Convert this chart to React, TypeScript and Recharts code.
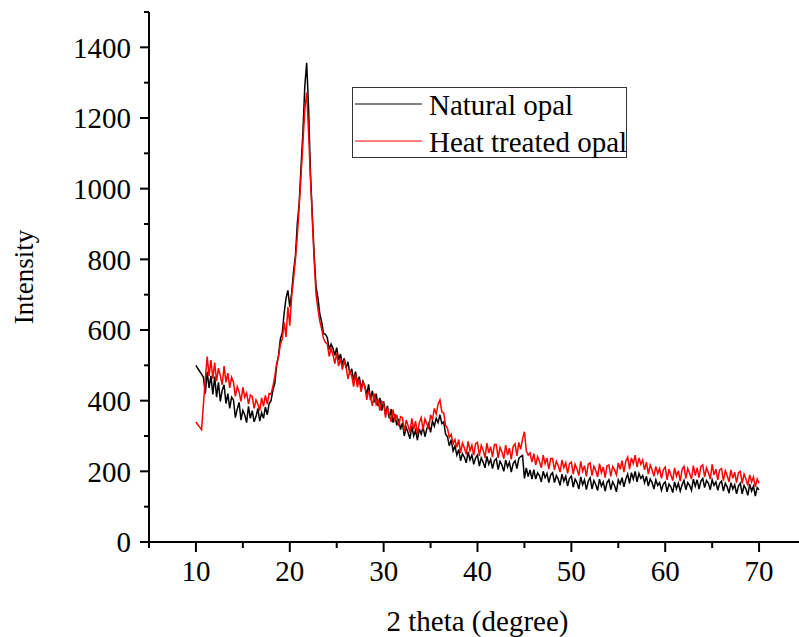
import { LineChart, Line, XAxis, YAxis, Legend } from "recharts";

// XRD scan, 2 theta from 10 to 70 deg in 0.2 deg steps
const THETA_START = 10;
const THETA_STEP = 0.2;

const NATURAL = [
  500, 491, 483, 475, 466, 420, 482, 436, 470, 418,
  468, 410, 452, 398, 430, 445, 392, 420, 378, 410,
  402, 352, 376, 395, 345, 372, 360, 338, 384, 350,
  372, 340, 355, 378, 342, 366, 350, 382, 360, 392,
  400, 430, 448, 500, 528, 575, 592, 648, 690, 712,
  665, 705, 765, 810, 900, 958, 1062, 1160, 1290, 1356,
  1230, 1045, 925, 812, 722, 690, 645, 622, 590, 588,
  578, 545, 560, 548, 528, 550, 515, 532, 502, 520,
  492, 510, 475, 490, 458, 482, 452, 468, 436, 455,
  440, 418, 446, 402, 428, 395, 420, 385, 408, 372,
  398, 362, 385, 350, 376, 338, 362, 330, 348, 318,
  338, 300, 325, 310, 292, 328, 300, 316, 288, 320,
  305, 326, 298, 320, 335, 310, 342, 328, 350, 338,
  360, 335, 340, 305, 298, 272, 290, 258, 272, 246,
  262, 230, 250, 240, 224, 255, 232, 246, 220, 238,
  246, 215, 238, 226, 210, 242, 220, 234, 208, 230,
  236, 205, 228, 218, 200, 232, 212, 226, 198, 222,
  230, 208, 236, 242, 245, 180, 210, 185, 204, 178,
  205, 178, 196, 188, 170, 200, 182, 194, 168, 190,
  196, 168, 188, 178, 160, 192, 172, 186, 158, 180,
  186, 155, 178, 168, 150, 184, 162, 176, 148, 172,
  182, 150, 174, 162, 146, 178, 158, 170, 144, 168,
  176, 148, 170, 160, 142, 176, 164, 182, 156, 178,
  192, 166, 196, 178, 200, 170, 194, 180, 188, 168,
  186, 158, 178, 168, 150, 176, 160, 168, 146, 164,
  170, 142, 164, 156, 140, 170, 150, 166, 144, 162,
  174, 148, 168, 160, 146, 178, 158, 176, 150, 172,
  180, 154, 174, 166, 148, 176, 160, 170, 146, 166,
  172, 144, 166, 156, 138, 168, 150, 162, 136, 158,
  166, 136, 160, 150, 132, 164, 144, 158, 130, 154,
  148,
];

const HEAT_TREATED = [
  340, 332, 325, 318, 390, 462, 525, 470, 515, 462,
  508, 455, 492, 470, 445, 498, 452, 478, 436, 466,
  452, 412, 440, 425, 398, 438, 410, 422, 390, 416,
  412, 378, 402, 390, 372, 408, 384, 415, 390, 420,
  418, 440, 468, 505, 525, 560, 575, 622, 580, 665,
  612, 695, 745, 800, 865, 950, 1038, 1130, 1225, 1272,
  1160, 1030, 915, 795, 700, 660, 625, 602, 575, 565,
  560, 525, 548, 530, 505, 535, 498, 520, 488, 512,
  495, 462, 485, 470, 440, 475, 438, 460, 425, 452,
  440, 402, 428, 410, 385, 420, 390, 405, 372, 398,
  392, 352, 380, 362, 340, 375, 345, 360, 328, 355,
  352, 312, 345, 330, 310, 350, 318, 342, 305, 338,
  352, 318, 348, 335, 320, 360, 345, 378, 362, 390,
  402, 368, 365, 330, 322, 296, 305, 278, 290, 268,
  290, 252, 280, 266, 248, 285, 258, 274, 246, 278,
  282, 244, 274, 260, 238, 280, 252, 270, 240, 276,
  276, 238, 268, 255, 236, 274, 246, 266, 234, 270,
  278, 244, 282, 262, 292, 312, 258, 246, 252, 226,
  250, 218, 242, 228, 210, 246, 222, 238, 206, 236,
  236, 204, 228, 216, 198, 232, 210, 224, 194, 222,
  226, 192, 220, 206, 188, 228, 200, 216, 186, 220,
  224, 188, 214, 202, 184, 222, 196, 212, 182, 216,
  218, 186, 214, 204, 190, 224, 206, 230, 198, 228,
  240, 206, 238, 222, 246, 212, 238, 220, 232, 204,
  226, 192, 218, 204, 186, 214, 194, 208, 180, 204,
  212, 176, 206, 190, 174, 210, 186, 202, 172, 206,
  214, 180, 208, 194, 178, 216, 188, 210, 182, 214,
  218, 184, 210, 196, 178, 220, 190, 206, 176, 204,
  208, 174, 202, 188, 170, 204, 180, 198, 168, 196,
  200, 166, 192, 178, 160, 190, 170, 184, 156, 178,
  166,
];

const SERIES_ORDER = ["Natural opal", "Heat treated opal"];
const X_TICKS = [5, 10, 15, 20, 25, 30, 35, 40, 45, 50, 55, 60, 65, 70, 75];
const Y_TICKS = [0, 100, 200, 300, 400, 500, 600, 700, 800, 900, 1000, 1100, 1200, 1300, 1400, 1500];

const SERIF = "'Liberation Serif', 'Times New Roman', serif";
const FONT_SIZE = 29;
const TEXT_STYLE = { fontFamily: SERIF, fontSize: FONT_SIZE };

const data = NATURAL.map((v, i) => ({
  theta: +(THETA_START + i * THETA_STEP).toFixed(1),
  natural: v,
  heat: HEAT_TREATED[i],
}));

const X_TICK_SIZE = 10;
const X_TICK_MARGIN = 8;
const Y_TICK_SIZE = 9;
const Y_TICK_MARGIN = 9;

function XTick(props: any) {
  const { x, y, payload } = props;
  const v = payload.value;
  const major = v % 10 === 0 && v <= 70;
  const axisY = y - X_TICK_SIZE - X_TICK_MARGIN;
  return (
    <g>
      <line x1={x} x2={x} y1={axisY} y2={axisY + (major ? X_TICK_SIZE : 6)} stroke="#000" strokeWidth={2} />
      {major && (
        <text x={x} y={y} dy="0.71em" textAnchor="middle" fill="#000" style={TEXT_STYLE}>
          {v}
        </text>
      )}
    </g>
  );
}

function YTick(props: any) {
  const { x, y, payload } = props;
  const v = payload.value;
  const major = v % 200 === 0;
  const axisX = x + Y_TICK_SIZE + Y_TICK_MARGIN;
  return (
    <g>
      <line x1={axisX - (major ? Y_TICK_SIZE : 5)} x2={axisX} y1={y} y2={y} stroke="#000" strokeWidth={2} />
      {major && (
        <text x={x} y={y} dy="0.355em" textAnchor="end" fill="#000" style={TEXT_STYLE}>
          {v}
        </text>
      )}
    </g>
  );
}

function YTitle(props: any) {
  const { viewBox } = props;
  const cy = viewBox.y + viewBox.height / 2;
  return (
    <text
      x={33}
      y={cy}
      transform={`rotate(-90, 33, ${cy})`}
      textAnchor="middle"
      fill="#000"
      style={{ fontFamily: SERIF, fontSize: 27 }}
    >
      Intensity
    </text>
  );
}

function LegendBox(props: any) {
  const items = [...(props.payload || [])].sort(
    (a: any, b: any) => SERIES_ORDER.indexOf(a.value) - SERIES_ORDER.indexOf(b.value)
  );
  return (
    <svg width={275} height={71} style={{ display: "block" }}>
      <rect x={0.5} y={0.5} width={274} height={70} fill="#fff" stroke="#333" strokeWidth={1} />
      {items.map((entry: any, i: number) => {
        const ly = 17 + i * 37;
        return (
          <g key={entry.value}>
            <line x1={3} x2={70} y1={ly} y2={ly} stroke={entry.color} strokeWidth={1.2} />
            <text x={77} y={ly + 11} fill="#000" style={TEXT_STYLE}>
              {entry.value}
            </text>
          </g>
        );
      })}
    </svg>
  );
}

export default function App() {
  return (
    <div style={{ position: "absolute", left: 0, top: 0, width: 799, height: 637, overflow: "hidden", background: "#fff" }}>
      <LineChart width={806} height={637} data={data} margin={{ top: 12, right: 0, bottom: 0, left: 0 }}>
        <XAxis
          dataKey="theta"
          type="number"
          domain={[5, 75]}
          ticks={X_TICKS}
          interval={0}
          height={95}
          tickSize={X_TICK_SIZE}
          tickMargin={X_TICK_MARGIN}
          tickLine={false}
          axisLine={{ stroke: "#000", strokeWidth: 2 }}
          tick={<XTick />}
          label={{
            value: "2 theta (degree)",
            position: "insideBottom",
            offset: 6,
            fill: "#000",
            fontSize: FONT_SIZE,
            fontFamily: SERIF,
          }}
        />
        <YAxis
          type="number"
          domain={[0, 1500]}
          ticks={Y_TICKS}
          interval={0}
          width={149}
          tickSize={Y_TICK_SIZE}
          tickMargin={Y_TICK_MARGIN}
          tickLine={false}
          axisLine={{ stroke: "#000", strokeWidth: 2 }}
          tick={<YTick />}
          label={<YTitle />}
        />
        <Legend
          layout="horizontal"
          verticalAlign="middle"
          align="center"
          content={<LegendBox />}
          wrapperStyle={{ left: 352, top: 87, width: 275, height: 71 }}
        />
        <Line
          name="Natural opal"
          dataKey="natural"
          type="linear"
          stroke="#000000"
          strokeWidth={1.5}
          dot={false}
          isAnimationActive={false}
        />
        <Line
          name="Heat treated opal"
          dataKey="heat"
          type="linear"
          stroke="#ff0000"
          strokeWidth={1.5}
          dot={false}
          isAnimationActive={false}
        />
      </LineChart>
    </div>
  );
}
